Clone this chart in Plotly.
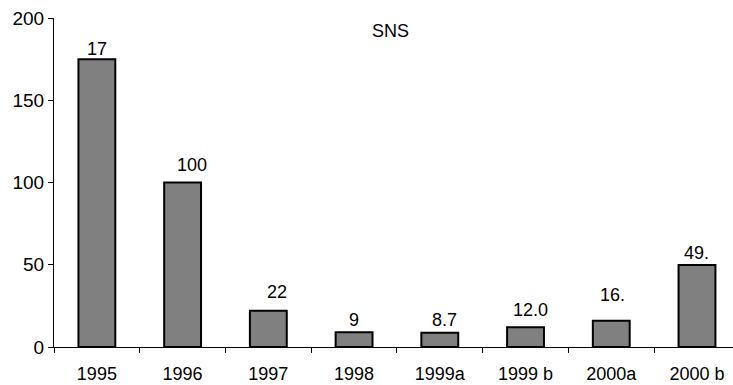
import plotly.graph_objects as go

# SNS values by survey round
categories = ["1995", "1996", "1997", "1998", "1999a", "1999 b", "2000a", "2000 b"]
values = [175, 100, 22, 9, 8.7, 12.0, 16, 49.8]
value_labels = ["17", "100", "22", "9", "8.7", "12.0", "16.", "49."]
y_ticks = [0, 50, 100, 150, 200]

# label placement offsets in pixels (right, up from bar top)
label_dx = [0, 9.5, 9, 0, 5, 5, 1, 0]
label_dy = [10, 17.5, 19, 12, 12.7, 17, 26, 12.5]

FONT = "Liberation Sans, Arial, sans-serif"

fig = go.Figure(
    go.Bar(
        x=categories,
        y=values,
        marker=dict(color="#808080", line=dict(color="black", width=2)),
        width=0.43,
        hoverinfo="skip",
    )
)

# value labels; positioned by category index so numeric-looking names
# are not read as coordinates
for i, (v, txt, dx, dy) in enumerate(zip(values, value_labels, label_dx, label_dy)):
    fig.add_annotation(
        x=i, y=v, text=txt, showarrow=False,
        xanchor="center", yanchor="middle",
        xshift=dx, yshift=dy,
        font=dict(family=FONT, size=18, color="black"),
    )

fig.add_annotation(
    x=0.496, y=0.96, xref="paper", yref="paper", text="SNS", showarrow=False,
    xanchor="center", yanchor="middle",
    font=dict(family=FONT, size=18, color="black"),
)

fig.update_layout(
    width=733, height=385,
    margin=dict(l=54, r=0, t=18, b=38),
    paper_bgcolor="white", plot_bgcolor="white",
    showlegend=False,
    font=dict(family=FONT, size=18, color="black"),
    xaxis=dict(
        type="category", range=[-0.5, 7.42],
        showline=True, linecolor="black", linewidth=1,
        ticks="outside", tickson="boundaries", ticklen=5, tickcolor="black",
        showgrid=False, zeroline=False,
        ticklabelstandoff=10,
        tickfont=dict(family=FONT, size=18),
    ),
    yaxis=dict(
        range=[0, 200], tickvals=y_ticks,
        showline=True, linecolor="black", linewidth=1,
        ticks="outside", ticklen=5, tickcolor="black",
        showgrid=False, zeroline=False,
        tickfont=dict(family=FONT, size=19),
    ),
)

fig.write_html("out.html")
